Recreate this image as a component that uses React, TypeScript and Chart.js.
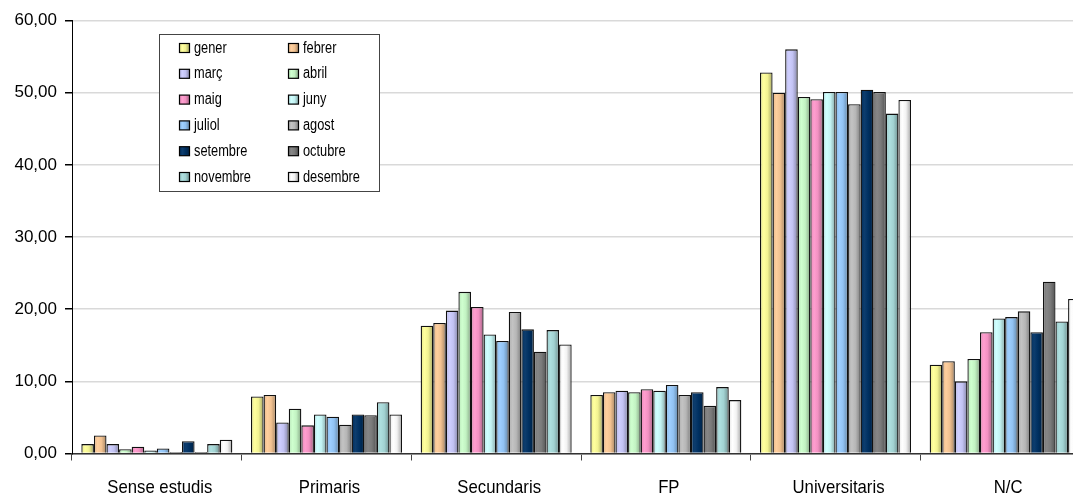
import React, { useEffect, useRef } from 'react';
import { Chart, registerables } from 'chart.js';

Chart.register(...registerables);

const categories = ['Sense estudis', 'Primaris', 'Secundaris', 'FP', 'Universitaris', 'N/C'];
const months = ['gener', 'febrer', 'març', 'abril', 'maig', 'juny', 'juliol', 'agost', 'setembre', 'octubre', 'novembre', 'desembre'];

const gener = [1.3, 7.9, 17.7, 8.1, 52.8, 12.3];
const febrer = [2.5, 8.1, 18.1, 8.5, 50.0, 12.8];
const marc = [1.3, 4.3, 19.8, 8.7, 56.0, 10.0];
const abril = [0.6, 6.2, 22.4, 8.5, 49.4, 13.1];
const maig = [0.95, 3.9, 20.3, 8.9, 49.1, 16.8];
const juny = [0.4, 5.4, 16.5, 8.7, 50.1, 18.7];
const juliol = [0.7, 5.1, 15.6, 9.5, 50.1, 18.9];
const agost = [0.2, 4.0, 19.6, 8.1, 48.4, 19.7];
const setembre = [1.7, 5.4, 17.2, 8.5, 50.4, 16.8];
const octubre = [0.2, 5.3, 14.1, 6.6, 50.1, 23.8];
const novembre = [1.3, 7.1, 17.1, 9.2, 47.1, 18.3];
const desembre = [1.9, 5.4, 15.1, 7.4, 49.0, 21.4];

const monthValues = [gener, febrer, marc, abril, maig, juny, juliol, agost, setembre, octubre, novembre, desembre];
const monthColors = ['#FFFF99', '#FFCC99', '#CCCCFF', '#CCFFCC', '#FF99CC', '#CCFFFF', '#99CCFF', '#C0C0C0', '#003366', '#808080', '#AADDDD', '#FFFFFF'];

const yMin = 0;
const yMax = 60;
const yStep = 10;

function shade(hex: string, amt: number): string {
  const n = parseInt(hex.slice(1), 16);
  let r = (n >> 16) & 255, g = (n >> 8) & 255, b = n & 255;
  if (amt >= 0) {
    r = r + (255 - r) * amt; g = g + (255 - g) * amt; b = b + (255 - b) * amt;
  } else {
    r = r * (1 + amt); g = g * (1 + amt); b = b * (1 + amt);
  }
  return `rgb(${Math.round(r)},${Math.round(g)},${Math.round(b)})`;
}

function barGradient(ctx: CanvasRenderingContext2D, x0: number, x1: number, color: string) {
  const g = ctx.createLinearGradient(x0, 0, x1, 0);
  g.addColorStop(0, shade(color, -0.1));
  g.addColorStop(0.3, shade(color, 0.05));
  g.addColorStop(0.6, shade(color, -0.05));
  g.addColorStop(1, shade(color, -0.35));
  return g;
}

const gradientPlugin = {
  id: 'gradientBars',
  beforeDatasetsDraw(chart: any) {
    const ctx = chart.ctx;
    chart.data.datasets.forEach((_ds: any, i: number) => {
      const meta = chart.getDatasetMeta(i);
      meta.data.forEach((el: any) => {
        const p = el.getProps(['x', 'width'], true);
        const g = barGradient(ctx, p.x - p.width / 2, p.x + p.width / 2, monthColors[i]);
        el.options = Object.assign({}, el.options, { backgroundColor: g });
      });
    });
  },
};

const labelsPlugin = {
  id: 'squeezedLabels',
  afterDraw(chart: any) {
    const ctx: CanvasRenderingContext2D = chart.ctx;
    const xs = chart.scales.x;
    ctx.save();
    ctx.fillStyle = '#000';
    ctx.font = '19px "Liberation Sans", Arial, sans-serif';
    ctx.textAlign = 'center';
    ctx.textBaseline = 'alphabetic';
    categories.forEach((c, i) => {
      const x = xs.getPixelForValue(i) + 3;
      ctx.save();
      ctx.translate(x, 493);
      ctx.scale(0.88, 1);
      ctx.fillText(c, 0, 0);
      ctx.restore();
    });
    ctx.restore();

    // legend box
    ctx.save();
    const L = 159.5, T = 34.5, W = 220, H = 157;
    ctx.fillStyle = '#fff';
    ctx.fillRect(L, T, W, H);
    ctx.strokeStyle = '#444';
    ctx.lineWidth = 1;
    ctx.strokeRect(L, T, W, H);
    months.forEach((m, i) => {
      const col = i % 2;
      const row = Math.floor(i / 2);
      const cy = 48 + row * 25.8;
      const sx = col === 0 ? 179.5 : 288.5;
      ctx.fillStyle = barGradient(ctx, sx, sx + 10, monthColors[i]);
      ctx.fillRect(sx, cy - 4.5, 10, 9);
      ctx.strokeStyle = '#000';
      ctx.lineWidth = 1.2;
      ctx.strokeRect(sx, cy - 4.5, 10, 9);
      ctx.save();
      ctx.translate(sx + 14.5, cy + 4.5);
      ctx.scale(0.8, 1);
      ctx.font = '16px "Liberation Sans", Arial, sans-serif';
      ctx.fillStyle = '#000';
      ctx.textAlign = 'left';
      ctx.textBaseline = 'alphabetic';
      ctx.fillText(m, 0, 0);
      ctx.restore();
    });
    ctx.restore();
  },
};

export default function App() {
  const ref = useRef<HTMLCanvasElement>(null);
  useEffect(() => {
    const chart = new Chart(ref.current as HTMLCanvasElement, {
      type: 'bar',
      data: {
        labels: categories,
        datasets: months.map((m, i) => ({
          label: m,
          data: monthValues[i],
          backgroundColor: monthColors[i],
          borderColor: '#111',
          borderWidth: 1.3,
          barPercentage: 1,
          categoryPercentage: 0.89,
        })),
      },
      options: {
        responsive: false,
        animation: false,
        layout: { padding: { top: 20.5, right: 10, left: 0, bottom: 0 } },
        plugins: { legend: { display: false }, tooltip: { enabled: false } },
        scales: {
          x: {
            type: 'category',
            offset: true,
            grid: { display: true, drawOnChartArea: false, drawTicks: true, tickLength: 7, tickColor: '#444', offset: true },
            border: { display: true, color: '#333', width: 1.5 },
            ticks: { display: false },
            afterFit: (s: any) => { s.height = 497 - 453.5; },
          },
          y: {
            min: yMin,
            max: yMax,
            ticks: {
              stepSize: yStep,
              padding: 8,
              color: '#000',
              font: { family: '"Liberation Sans", Arial, sans-serif', size: 17 },
              callback: (v: any) => Number(v).toFixed(2).replace('.', ','),
            },
            grid: { color: '#d9d9d9', lineWidth: 1.5, tickColor: '#000', tickLength: 7 },
            border: { display: true, color: '#000', width: 1 },
            afterFit: (s: any) => { s.width = 72; },
          },
        },
      } as any,
      plugins: [gradientPlugin, labelsPlugin],
    });
    return () => chart.destroy();
  }, []);
  return (
    <div style={{ position: 'fixed', left: 0, top: 0, width: 1073, height: 497, overflow: 'hidden', background: '#fff' }}>
      <canvas ref={ref} width={1100} height={497} style={{ display: 'block', width: 1100, height: 497 }} />
    </div>
  );
}
